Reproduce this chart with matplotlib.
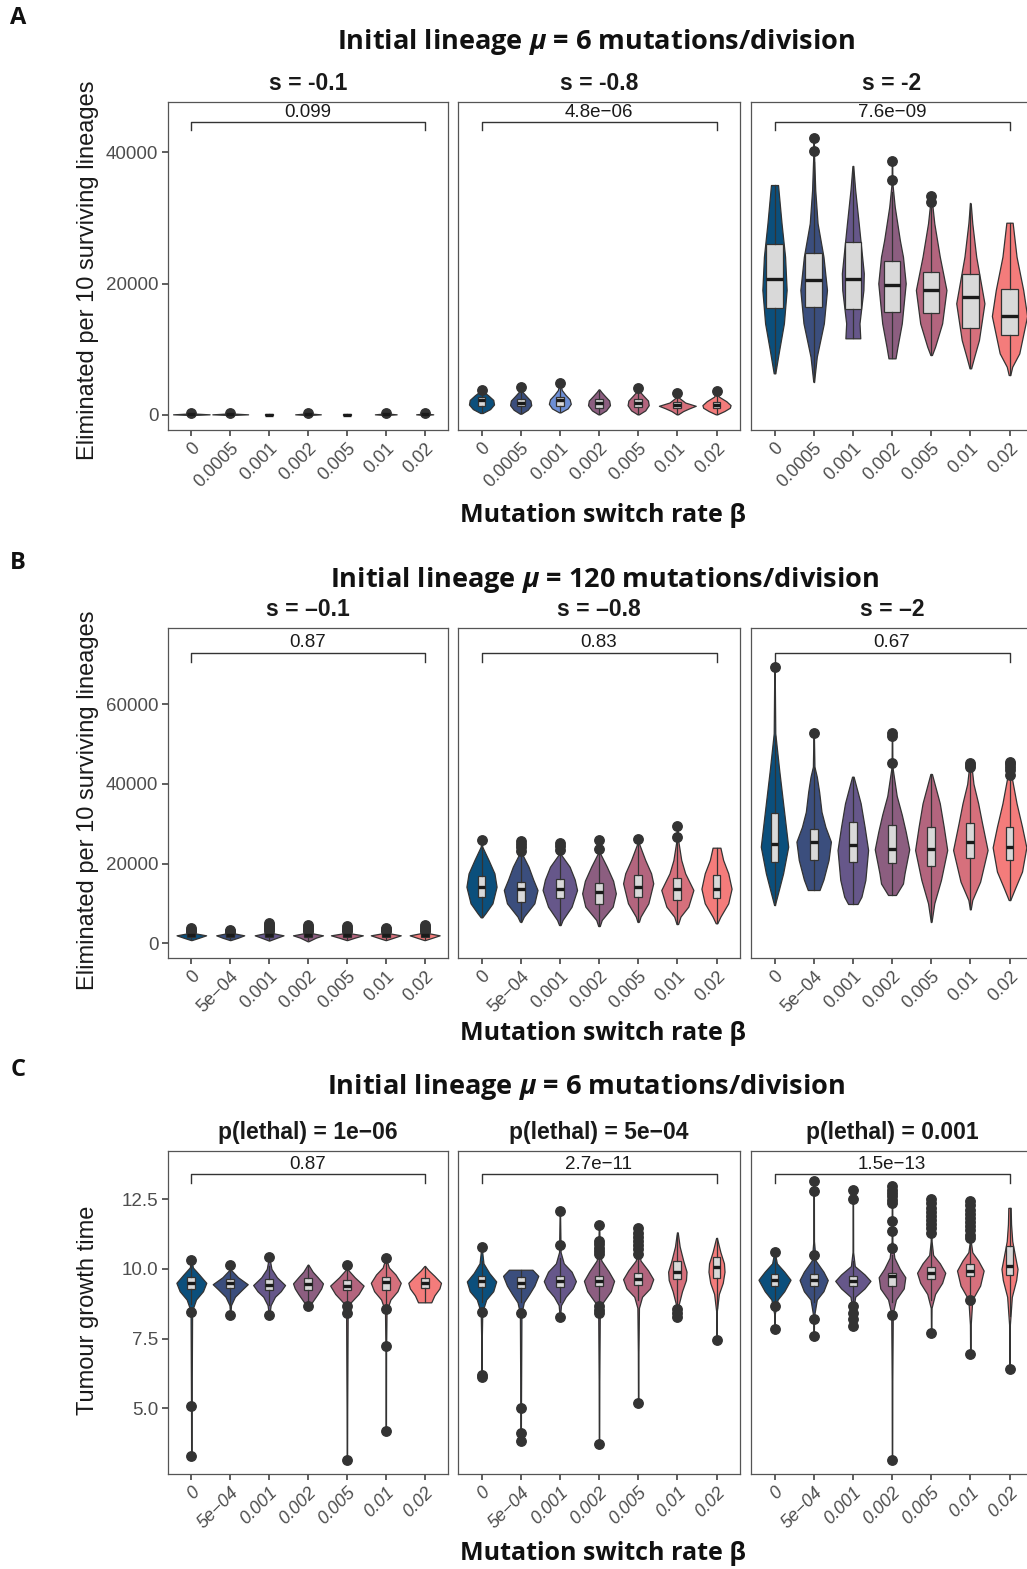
import numpy as np
import matplotlib
matplotlib.use('Agg')
import matplotlib.pyplot as plt

plt.rcParams['font.family'] = ['Liberation Sans', 'DejaVu Sans']

# ---------------- data ----------------
betas_A = ['0', '0.0005', '0.001', '0.002', '0.005', '0.01', '0.02']
betas_BC = ['0', '5e\u221204', '0.001', '0.002', '0.005', '0.01', '0.02']

strips_A = ['s = -0.1', 's = -0.8', 's = -2']
strips_B = ['s = \u20130.1', 's = \u20130.8', 's = \u20132']
strips_C = ['p(lethal) = 1e\u221206', 'p(lethal) = 5e\u221204', 'p(lethal) = 0.001']

pvals_A = ['0.099', '4.8e\u221206', '7.6e\u221209']
pvals_B = ['0.87', '0.83', '0.67']
pvals_C = ['0.87', '2.7e\u221211', '1.5e\u221213']

titles = ['Initial lineage $\\mu$ = 6 mutations/division',
          'Initial lineage $\\mu$ = 120 mutations/division',
          'Initial lineage $\\mu$ = 6 mutations/division']

palette = ['#0b4f7c', '#3b4e7d', '#66578a', '#8c5e80', '#b3657e', '#d6707c', '#f47c7b']
palette_A2 = ['#0b4f7c', '#3b4e7d', '#6d8fd6', '#8c5e80', '#b3657e', '#d6707c', '#f47c7b']

# violin outlines: y levels and half widths, box stats [low, q1, median, q3, high], outliers
A1_ys = [[0, 100, 250], [0, 100, 250], [0, 60, 150], [0, 100, 250],
         [0, 60, 150], [0, 100, 250], [0, 100, 250]]
A1_ws = [[0.01, 0.47, 0.01], [0.01, 0.46, 0.01], [0.01, 0.05, 0.01], [0.01, 0.33, 0.01],
         [0.01, 0.05, 0.01], [0.01, 0.28, 0.01], [0.01, 0.22, 0.01]]
A1_box = [[0, 60, 100, 140, 220], [0, 60, 100, 140, 220], [0, 40, 70, 100, 150], [0, 60, 100, 140, 220],
          [0, 40, 70, 100, 150], [0, 60, 100, 140, 220], [0, 60, 100, 140, 220]]
A1_out = [[250], [250], [], [250], [], [250], [250]]

A2_ys = [[300, 900, 1600, 2300, 3000, 3500, 3850],
         [200, 800, 1500, 2200, 2900, 3500, 4300],
         [400, 1000, 1700, 2400, 3100, 3800, 4850],
         [100, 700, 1500, 2200, 2900, 3500, 3900],
         [100, 700, 1500, 2200, 2900, 3500, 4150],
         [100, 600, 1000, 1400, 1900, 2600, 3300],
         [100, 600, 1100, 1500, 2100, 2800, 3650]]
A2_ws = [[0.03, 0.22, 0.32, 0.30, 0.17, 0.06, 0.01],
         [0.02, 0.18, 0.27, 0.25, 0.14, 0.05, 0.01],
         [0.02, 0.20, 0.28, 0.25, 0.14, 0.05, 0.01],
         [0.02, 0.18, 0.28, 0.26, 0.15, 0.06, 0.01],
         [0.02, 0.18, 0.27, 0.25, 0.14, 0.05, 0.01],
         [0.02, 0.15, 0.30, 0.47, 0.20, 0.05, 0.01],
         [0.02, 0.20, 0.34, 0.36, 0.25, 0.06, 0.01]]
A2_box = [[400, 1300, 2300, 2800, 3600], [300, 1300, 1800, 2500, 3700], [500, 1300, 2300, 2800, 3900],
          [200, 1100, 1800, 2400, 3700], [200, 1200, 1900, 2500, 3600], [200, 1000, 1500, 2000, 2900],
          [200, 1000, 1500, 2000, 3000]]
A2_out = [[3850], [4300], [4850], [], [4150], [3300], [3650]]

A3_ys = [[6350, 9900, 13960, 19040, 24110, 29190, 35030],
         [5080, 8880, 13960, 19040, 24110, 29190, 34270, 39540, 42240],
         [11680, 13960, 19040, 21580, 29190, 34270, 37920],
         [8630, 10400, 13960, 20050, 24110, 26650, 31720, 35280, 38730],
         [9140, 10400, 13960, 19040, 24110, 29190, 33350],
         [7110, 8880, 11420, 17010, 24110, 29190, 32240],
         [6090, 7360, 9390, 15080, 19040, 24110, 29290]]
A3_ws = [[0.02, 0.12, 0.24, 0.31, 0.27, 0.18, 0.09],
         [0.01, 0.08, 0.26, 0.34, 0.25, 0.10, 0.04, 0.01, 0.005],
         [0.19, 0.17, 0.27, 0.28, 0.15, 0.06, 0.01],
         [0.09, 0.14, 0.25, 0.35, 0.28, 0.20, 0.07, 0.01, 0.005],
         [0.02, 0.10, 0.28, 0.39, 0.22, 0.08, 0.005],
         [0.02, 0.10, 0.22, 0.36, 0.15, 0.05, 0.01],
         [0.02, 0.07, 0.25, 0.45, 0.35, 0.18, 0.08]]
A3_box = [[6350, 16250, 20710, 26040, 35030], [5080, 16500, 20560, 24720, 38500],
          [11680, 16140, 20710, 26300, 37920], [8630, 15730, 19800, 23500, 34000],
          [9140, 15480, 19040, 21830, 31500], [7110, 13200, 17920, 21430, 32240],
          [6090, 12180, 15080, 19140, 29290]]
A3_out = [[], [40210, 42240], [], [35790, 38730], [32390, 33350], [], []]

B1_ys = [[800, 1400, 2000, 2500, 3000, 3760], [800, 1400, 2000, 2500, 3000, 3350],
         [700, 1400, 2000, 2500, 3000, 5020], [500, 1400, 2000, 2500, 3000, 4600],
         [800, 1400, 2000, 2500, 3000, 4350], [800, 1400, 2000, 2500, 3000, 3930],
         [800, 1400, 2000, 2500, 3000, 4600]]
B1_ws = [[0.01, 0.20, 0.38, 0.10, 0.02, 0.005], [0.01, 0.20, 0.36, 0.10, 0.02, 0.005],
         [0.01, 0.20, 0.37, 0.12, 0.03, 0.005], [0.01, 0.20, 0.385, 0.12, 0.03, 0.005],
         [0.01, 0.20, 0.41, 0.10, 0.02, 0.005], [0.01, 0.20, 0.385, 0.10, 0.02, 0.005],
         [0.01, 0.20, 0.385, 0.12, 0.03, 0.005]]
B1_box = [[1000, 1700, 2000, 2300, 2900], [1000, 1700, 2000, 2300, 2800], [900, 1600, 2000, 2400, 3000],
          [800, 1600, 2000, 2400, 2900], [1000, 1700, 2000, 2300, 2900], [1000, 1700, 2000, 2300, 2900],
          [1000, 1700, 2050, 2400, 2950]]
B1_out = [[3000, 3200, 3450, 3760], [2950, 3150, 3350], [3100, 3500, 3900, 4300, 4700, 5020],
          [3000, 3400, 3800, 4200, 4600], [3000, 3450, 3900, 4350], [3000, 3300, 3600, 3930],
          [3000, 3400, 3800, 4200, 4600]]

B2_ys = [[6520, 7530, 10040, 14200, 17560, 20900, 24240, 25920],
         [5420, 6690, 10040, 13370, 16000, 19220, 22740, 25740],
         [4590, 5850, 9180, 13370, 16000, 19220, 22410, 25240],
         [4340, 5850, 9200, 12540, 15700, 19220, 22740, 25920],
         [5420, 6690, 10040, 15050, 17560, 20900, 25090, 26170],
         [4840, 6690, 9200, 13370, 17560, 20900, 25920, 29510],
         [5020, 6690, 10040, 13700, 17560, 20900, 23990]]
B2_ws = [[0.02, 0.10, 0.28, 0.385, 0.33, 0.18, 0.02, 0.005],
         [0.02, 0.08, 0.35, 0.43, 0.32, 0.20, 0.02, 0.005],
         [0.02, 0.07, 0.30, 0.44, 0.38, 0.25, 0.02, 0.005],
         [0.02, 0.07, 0.35, 0.43, 0.36, 0.20, 0.02, 0.005],
         [0.02, 0.06, 0.26, 0.385, 0.33, 0.18, 0.02, 0.005],
         [0.02, 0.08, 0.28, 0.41, 0.20, 0.10, 0.02, 0.005],
         [0.02, 0.10, 0.30, 0.385, 0.30, 0.17, 0.10]]
B2_box = [[6520, 11540, 14200, 16890, 24240], [5420, 10440, 13540, 15460, 22740],
          [4590, 11290, 13540, 16060, 22410], [4340, 9860, 12960, 15050, 22740],
          [5420, 11540, 14200, 17140, 25090], [4840, 10860, 13540, 16310, 25920],
          [5020, 11460, 13700, 17140, 23990]]
B2_out = [[25920], [23240, 24070, 24900, 25740], [23400, 24400, 25240], [23580, 25920],
          [26170], [26750, 29510], []]

B3_ys = [[9610, 13000, 17560, 24240, 32620, 43480, 52690, 69400],
         [13370, 16000, 20900, 25500, 29200, 33000, 38000, 41800, 44310, 52840],
         [9860, 11690, 15880, 23410, 29260, 35130, 41800],
         [12120, 15000, 17560, 23580, 28000, 32280, 37000, 44310, 52690],
         [5420, 10040, 15880, 23410, 29260, 35130, 42480],
         [8530, 10870, 15460, 23410, 30110, 35130, 40000, 45200],
         [10860, 14000, 18000, 24080, 29260, 35130, 42000, 45500]]
B3_ws = [[0.01, 0.10, 0.22, 0.35, 0.25, 0.12, 0.02, 0.005],
         [0.15, 0.25, 0.38, 0.44, 0.30, 0.20, 0.14, 0.08, 0.02, 0.005],
         [0.12, 0.22, 0.32, 0.39, 0.30, 0.20, 0.02],
         [0.10, 0.28, 0.32, 0.44, 0.35, 0.25, 0.12, 0.01, 0.005],
         [0.01, 0.08, 0.25, 0.41, 0.32, 0.22, 0.02],
         [0.01, 0.05, 0.25, 0.44, 0.30, 0.20, 0.08, 0.02],
         [0.02, 0.15, 0.32, 0.43, 0.32, 0.18, 0.05, 0.02]]
B3_box = [[9610, 20470, 24910, 32620, 52000], [13370, 20900, 25500, 28680, 44310],
          [9860, 20470, 24660, 30510, 41800], [12120, 20070, 23580, 29680, 44310],
          [5420, 19470, 23580, 29100, 42480], [8530, 21330, 25340, 30110, 43500],
          [10860, 20900, 24080, 29260, 42000]]
B3_out = [[69400], [52840], [], [45160, 52010, 52690], [], [44300, 44700, 45200],
          [42200, 43400, 44300, 45000, 45500]]

C1_ys = [[3.28, 5.0, 8.5, 8.9, 9.2, 9.5, 9.8, 10.05, 10.31],
         [8.36, 8.7, 9.0, 9.25, 9.45, 9.7, 9.95, 10.15],
         [8.34, 8.7, 9.0, 9.2, 9.42, 9.7, 10.0, 10.43],
         [8.66, 8.80, 9.1, 9.3, 9.48, 9.7, 9.9, 10.15],
         [3.13, 5.0, 8.4, 8.8, 9.1, 9.4, 9.7, 9.95, 10.15],
         [4.18, 7.0, 8.5, 8.9, 9.2, 9.5, 9.8, 10.05, 10.39],
         [8.80, 9.05, 9.3, 9.5, 9.75, 9.95, 10.10]]
C1_ws = [[0.005, 0.008, 0.02, 0.12, 0.30, 0.385, 0.20, 0.04, 0.005],
         [0.005, 0.02, 0.12, 0.30, 0.45, 0.20, 0.03, 0.005],
         [0.005, 0.04, 0.15, 0.30, 0.41, 0.20, 0.06, 0.005],
         [0.005, 0.10, 0.25, 0.34, 0.385, 0.25, 0.12, 0.01],
         [0.005, 0.008, 0.02, 0.10, 0.30, 0.43, 0.20, 0.04, 0.005],
         [0.005, 0.008, 0.02, 0.12, 0.30, 0.385, 0.25, 0.08, 0.005],
         [0.17, 0.25, 0.38, 0.42, 0.25, 0.10, 0.01]]
C1_box = [[8.75, 9.28, 9.50, 9.71, 10.15], [8.7, 9.32, 9.48, 9.64, 10.0], [8.7, 9.23, 9.43, 9.62, 10.1],
          [8.8, 9.25, 9.46, 9.67, 10.15], [8.75, 9.23, 9.40, 9.60, 10.05], [8.7, 9.25, 9.52, 9.71, 10.2],
          [8.8, 9.32, 9.49, 9.67, 10.1]]
C1_out = [[10.31, 8.46, 5.08, 3.28], [10.15, 8.36], [10.43, 8.34], [8.66],
          [10.15, 8.66, 8.42, 3.13], [10.39, 8.56, 7.23, 4.18], []]

C2_ys = [[6.13, 7.5, 8.45, 8.9, 9.2, 9.55, 9.85, 10.2, 10.77],
         [3.82, 5.0, 8.4, 8.8, 9.1, 9.4, 9.75, 9.97],
         [8.29, 8.7, 9.0, 9.3, 9.56, 9.9, 10.2, 10.6, 12.06],
         [3.70, 6.0, 8.4, 8.8, 9.2, 9.57, 9.9, 10.3, 10.7, 11.56],
         [5.20, 7.0, 8.6, 9.0, 9.3, 9.63, 9.95, 10.3, 10.8, 11.46],
         [8.26, 8.7, 9.2, 9.6, 9.9, 10.3, 10.8, 11.31],
         [7.44, 8.5, 9.1, 9.5, 9.9, 10.2, 10.6, 11.11]]
C2_ws = [[0.005, 0.008, 0.02, 0.12, 0.30, 0.375, 0.20, 0.05, 0.005],
         [0.005, 0.008, 0.02, 0.08, 0.22, 0.35, 0.45, 0.30],
         [0.005, 0.03, 0.15, 0.33, 0.41, 0.30, 0.10, 0.02, 0.005],
         [0.005, 0.008, 0.02, 0.10, 0.30, 0.385, 0.25, 0.06, 0.02, 0.005],
         [0.005, 0.008, 0.02, 0.10, 0.30, 0.385, 0.25, 0.06, 0.015, 0.005],
         [0.005, 0.03, 0.12, 0.22, 0.235, 0.15, 0.06, 0.01],
         [0.005, 0.01, 0.06, 0.16, 0.205, 0.19, 0.10, 0.01]]
C2_box = [[8.8, 9.36, 9.56, 9.76, 10.3], [8.8, 9.32, 9.5, 9.71, 9.97], [8.8, 9.36, 9.56, 9.76, 10.4],
          [8.85, 9.38, 9.57, 9.76, 10.35], [8.9, 9.44, 9.63, 9.86, 10.45], [8.7, 9.62, 9.88, 10.27, 11.2],
          [8.6, 9.68, 10.06, 10.43, 11.11]]
C2_out = [[10.77, 8.45, 6.21, 6.13], [8.43, 5.02, 4.12, 3.82], [12.06, 10.86, 8.29],
          [11.56, 11.0, 10.88, 10.76, 10.64, 10.52, 8.66, 8.54, 8.42, 3.70],
          [11.46, 11.3, 11.15, 11.0, 10.85, 10.7, 10.55, 5.20], [8.56, 8.42, 8.26], [7.44]]

C3_ys = [[7.85, 8.4, 8.9, 9.2, 9.61, 9.9, 10.2, 10.61],
         [7.61, 8.3, 8.9, 9.2, 9.6, 9.9, 10.3, 11.0, 13.14],
         [7.95, 8.5, 9.0, 9.3, 9.57, 9.8, 10.1, 10.6, 12.82],
         [3.16, 6.0, 8.4, 8.9, 9.3, 9.7, 10.0, 10.4, 11.0, 12.96],
         [7.71, 8.6, 9.1, 9.5, 9.86, 10.2, 10.5, 11.0, 12.49],
         [6.93, 8.0, 8.9, 9.4, 9.94, 10.3, 10.6, 11.0, 12.43],
         [6.42, 8.0, 9.0, 9.6, 10.0, 10.4, 11.0, 11.6, 12.19]]
C3_ws = [[0.005, 0.01, 0.08, 0.25, 0.41, 0.25, 0.06, 0.005],
         [0.005, 0.01, 0.08, 0.25, 0.36, 0.25, 0.05, 0.008, 0.005],
         [0.005, 0.01, 0.06, 0.30, 0.45, 0.30, 0.05, 0.008, 0.005],
         [0.005, 0.008, 0.02, 0.10, 0.30, 0.34, 0.20, 0.06, 0.01, 0.005],
         [0.005, 0.01, 0.10, 0.28, 0.36, 0.22, 0.05, 0.01, 0.005],
         [0.005, 0.01, 0.05, 0.25, 0.34, 0.20, 0.05, 0.01, 0.005],
         [0.005, 0.01, 0.06, 0.17, 0.205, 0.15, 0.07, 0.04, 0.03]]
C3_box = [[8.8, 9.40, 9.61, 9.82, 10.4], [8.8, 9.38, 9.6, 9.82, 10.4], [8.9, 9.38, 9.57, 9.76, 10.3],
          [8.8, 9.40, 9.74, 9.86, 10.5], [8.9, 9.64, 9.86, 10.06, 11.2], [9.1, 9.76, 9.94, 10.18, 11.0],
          [8.3, 9.79, 10.09, 10.83, 12.19]]
C3_out = [[10.61, 8.66, 7.85], [13.14, 12.78, 10.51, 8.19, 7.61], [12.82, 12.49, 8.66, 8.42, 8.2, 7.95],
          [12.96, 12.84, 12.72, 12.6, 12.48, 12.36, 11.71, 11.35, 10.75, 8.36, 3.16],
          [12.49, 12.35, 12.2, 12.05, 11.9, 11.75, 11.6, 11.45, 11.3, 7.71],
          [12.43, 12.28, 12.13, 11.98, 11.83, 11.68, 11.53, 11.38, 11.23, 11.1, 8.90, 6.93],
          [6.42]]

# significance bracket heights (end, bar) per row
bracket_A = (43410, 44585)
bracket_B = (70665, 72924)
bracket_C = (13.07, 13.40)

# ---------------- layout ----------------
W, H = 1027, 1569
fig = plt.figure(figsize=(W / 100, H / 100), dpi=100)


def fx(x):
    return x / W


def fy(y):
    return 1 - y / H


cols = [(168, 448), (458, 740), (751, 1033)]
rows = [(102.3, 430.0), (628.3, 958.3), (1151.0, 1474.3)]
ylims = [(-2285, 47630), (-3764, 79046), (2.63, 14.23)]

EDGE = '#333333'
TICK_GRAY = '#4d4d4d'


def draw_facet(ax, ys_l, ws_l, box_l, out_l, colors, box_w):
    for i in range(7):
        x = i + 1
        ys = np.array(ys_l[i])
        ws = np.array(ws_l[i])
        ax.fill_betweenx(ys, x - ws, x + ws, facecolor=colors[i], edgecolor=EDGE,
                         linewidth=0.9, zorder=2)
        lo, q1, med, q3, hi = box_l[i]
        stats = [dict(whislo=lo, q1=q1, med=med, q3=q3, whishi=hi, fliers=out_l[i])]
        ax.bxp(stats, positions=[x], widths=box_w, patch_artist=True, showcaps=False,
               manage_ticks=False, zorder=3,
               boxprops=dict(facecolor='#d9d9d9', edgecolor=EDGE, linewidth=0.9),
               medianprops=dict(color='#1a1a1a', linewidth=2.4),
               whiskerprops=dict(color=EDGE, linewidth=0.9),
               flierprops=dict(marker='o', markerfacecolor=EDGE, markeredgecolor=EDGE,
                               markersize=6.8))


facets = [
    [(A1_ys, A1_ws, A1_box, A1_out), (A2_ys, A2_ws, A2_box, A2_out), (A3_ys, A3_ws, A3_box, A3_out)],
    [(B1_ys, B1_ws, B1_box, B1_out), (B2_ys, B2_ws, B2_box, B2_out), (B3_ys, B3_ws, B3_box, B3_out)],
    [(C1_ys, C1_ws, C1_box, C1_out), (C2_ys, C2_ws, C2_box, C2_out), (C3_ys, C3_ws, C3_box, C3_out)],
]
strips = [strips_A, strips_B, strips_C]
pvals = [pvals_A, pvals_B, pvals_C]
brackets = [bracket_A, bracket_B, bracket_C]
xlabels = [betas_A, betas_BC, betas_BC]
yticks = [[0, 20000, 40000], [0, 20000, 40000, 60000], [5.0, 7.5, 10.0, 12.5]]
yticklabels = [['0', '20000', '40000'], ['0', '20000', '40000', '60000'],
               ['5.0', '7.5', '10.0', '12.5']]
box_widths = [[0.2, 0.2, 0.42], [0.2, 0.2, 0.2], [0.2, 0.2, 0.2]]

for r in range(3):
    y0, y1 = rows[r]
    for c in range(3):
        x0, x1 = cols[c]
        ax = fig.add_axes([fx(x0), fy(y1), (x1 - x0) / W, (y1 - y0) / H])
        colors = palette_A2 if (r == 0 and c == 1) else palette
        ys_l, ws_l, box_l, out_l = facets[r][c]
        draw_facet(ax, ys_l, ws_l, box_l, out_l, colors, box_widths[r][c])

        ax.set_xlim(0.4, 7.6)
        ax.set_ylim(*ylims[r])
        ax.set_xticks(range(1, 8))
        ax.set_xticklabels(xlabels[r], rotation=45, ha='right', va='top',
                           rotation_mode='anchor', fontsize=13, color=TICK_GRAY,
                           style='italic' if r == 2 else 'normal')
        ax.set_yticks(yticks[r])
        ax.set_yticklabels(yticklabels[r], fontsize=13.5, color=TICK_GRAY)
        ax.tick_params(length=4, width=1.1, color=EDGE, pad=3)
        if c > 0:
            ax.tick_params(left=False, labelleft=False)
        for sp in ax.spines.values():
            sp.set_color('#555555')
            sp.set_linewidth(0.9)

        lo, hi = brackets[r]
        ax.plot([1, 1, 7, 7], [lo, hi, hi, lo], color=EDGE, linewidth=1, zorder=4)
        ax.annotate(pvals[r][c], xy=(4, hi), xytext=(0, 1), textcoords='offset points',
                    ha='center', va='bottom', fontsize=13.5, color='#1a1a1a')

        ax.annotate(strips[r][c], xy=(0.5, 1.0), xycoords='axes fraction',
                    xytext=(0, 5), textcoords='offset points', ha='center',
                    va='bottom', fontsize=16.5, fontweight='bold', color='#1a1a1a')

# panel titles, letters and axis labels
title_pos = [(596, 42), (605, 580), (586, 1087)]
letter_pos = [(18, 18), (18, 563), (18, 1070)]
xlab_y = [516, 1033, 1553]
ylab_pos = [(88, 270), (88, 800), (88, 1310)]
ylab_text = ['Eliminated per 10 surviving lineages', 'Eliminated per 10 surviving lineages',
             'Tumour growth time']

plt.rcParams['mathtext.fontset'] = 'custom'
plt.rcParams['mathtext.it'] = 'Open Sans:italic:bold'
plt.rcParams['mathtext.rm'] = 'Open Sans:bold'

for r in range(3):
    fig.text(fx(title_pos[r][0]), fy(title_pos[r][1]), titles[r], ha='center', va='center',
             fontsize=19.5, fontweight='bold', family='Open Sans', color='#111111')
    fig.text(fx(letter_pos[r][0]), fy(letter_pos[r][1]), 'ABC'[r], ha='center', va='center',
             fontsize=17, fontweight='bold', family='Open Sans', color='#111111')
    fig.text(fx(603), fy(xlab_y[r]), 'Mutation switch rate \u03b2', ha='center', va='center',
             fontsize=18, fontweight='bold', family='Open Sans', color='#111111')
    fig.text(fx(ylab_pos[r][0]), fy(ylab_pos[r][1]), ylab_text[r], ha='center', va='center',
             rotation=90, fontsize=17, color='#1a1a1a')

fig.savefig('out.png', dpi=100)
